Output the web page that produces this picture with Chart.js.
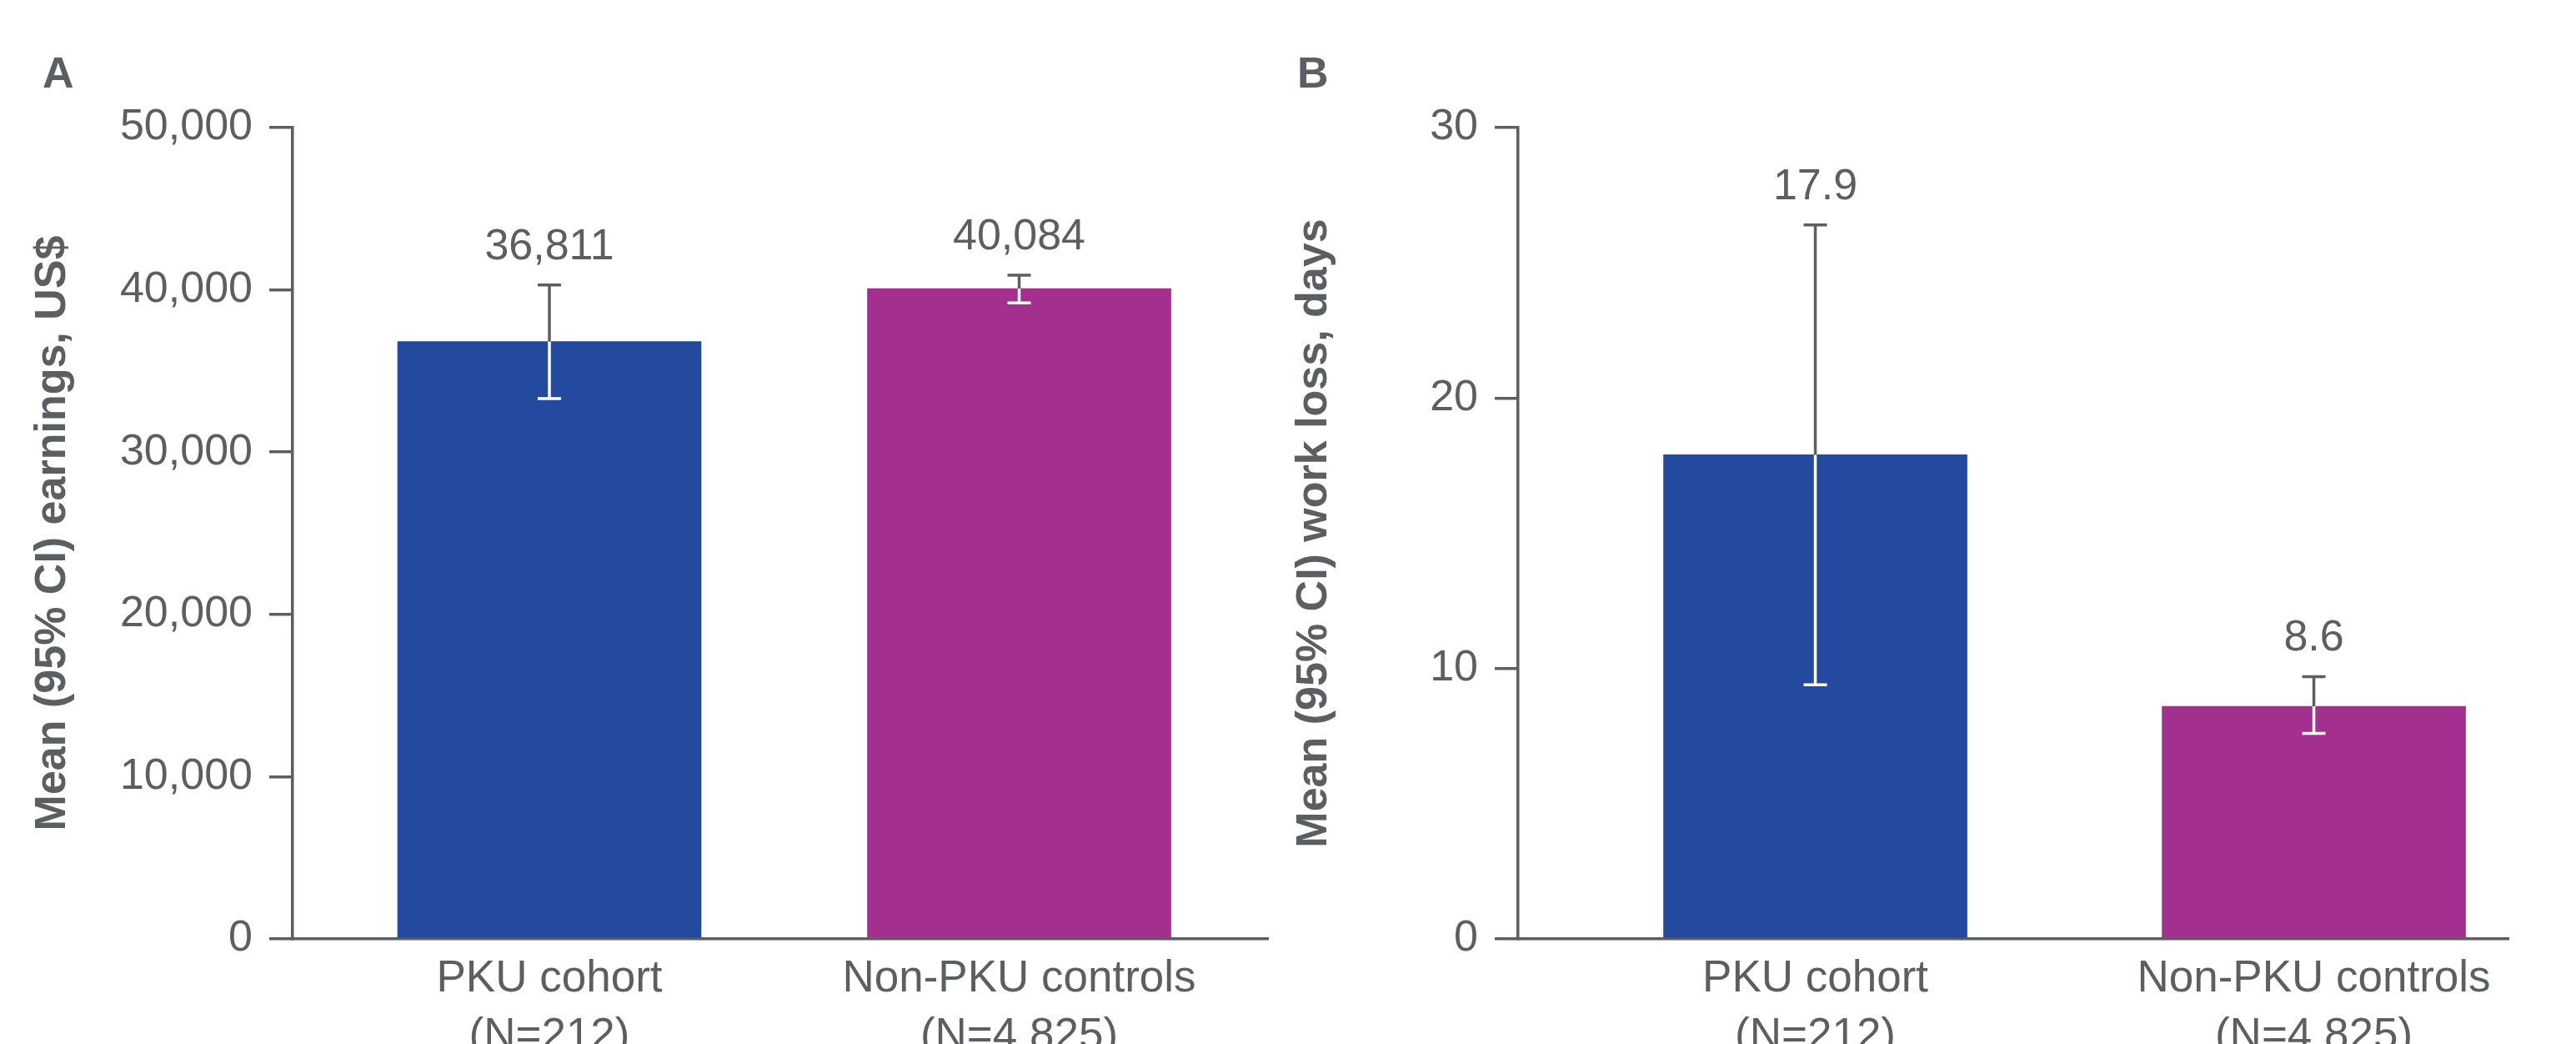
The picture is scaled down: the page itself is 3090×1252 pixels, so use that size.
<!DOCTYPE html>
<html>
<head>
<meta charset="utf-8">
<title>PKU earnings and work loss</title>
<script src="https://cdn.jsdelivr.net/npm/chart.js@4.4.1/dist/chart.umd.min.js"></script>
<style>
  body { margin: 0; background: #fff; }
  #wrap { position: relative; width: 3090px; height: 1252px; overflow: hidden; }
  canvas { position: absolute; top: 0; }
</style>
</head>
<body>
<div id="wrap">
  <canvas id="chartA" width="1545" height="1252" style="left:0"></canvas>
  <canvas id="chartB" width="1545" height="1252" style="left:1545px"></canvas>
</div>
<script>
// values
var categories = [['PKU cohort', '(N=212)'], ['Non-PKU controls', '(N=4,825)']];
var categoryPos = [0, 1];

var earningsMean = [36811, 40084];
var earningsLow = [33300, 39200];
var earningsHigh = [40300, 40900];
var earningsTicks = [0, 10000, 20000, 30000, 40000, 50000];

var workLossMean = [17.9, 8.6];
var workLossLow = [9.4, 7.6];
var workLossHigh = [26.4, 9.7];
var workLossTicks = [0, 10, 20, 30];

var barColors = ['#234a9f', '#a3308f'];

var GREY = '#5b5f61';
var FONT = "'Liberation Sans', Arial, Helvetica, sans-serif";

Chart.defaults.font.family = FONT;
Chart.defaults.font.size = 52;
Chart.defaults.color = GREY;

// error bars + value labels: grey above the bar, white inside it
var errorBarPlugin = {
  id: 'errorBars',
  afterDatasetsDraw: function(chart, args, opts) {
    var ctx = chart.ctx;
    var yScale = chart.scales.y;
    var meta = chart.getDatasetMeta(0);
    var half = 14;
    ctx.save();
    ctx.lineWidth = 3.5;
    meta.data.forEach(function(bar, i) {
      var x = bar.x;
      var top = yScale.getPixelForValue(opts.high[i]);
      var bottom = yScale.getPixelForValue(opts.low[i]);
      var barTop = bar.y;

      ctx.strokeStyle = GREY;
      ctx.beginPath();
      ctx.moveTo(x, top);
      ctx.lineTo(x, Math.min(barTop, bottom));
      ctx.moveTo(x - half, top);
      ctx.lineTo(x + half, top);
      ctx.stroke();

      ctx.strokeStyle = '#ffffff';
      ctx.beginPath();
      ctx.moveTo(x, barTop);
      ctx.lineTo(x, bottom);
      ctx.moveTo(x - half, bottom);
      ctx.lineTo(x + half, bottom);
      ctx.stroke();

      ctx.fillStyle = GREY;
      ctx.font = '52px ' + FONT;
      ctx.textAlign = 'center';
      ctx.textBaseline = 'alphabetic';
      ctx.fillText(opts.labels[i], x, top - 31);
    });
    ctx.restore();
  }
};

var panelLetterPlugin = {
  id: 'panelLetter',
  afterDraw: function(chart, args, opts) {
    var ctx = chart.ctx;
    ctx.save();
    ctx.fillStyle = GREY;
    ctx.font = 'bold 52px ' + FONT;
    ctx.textAlign = 'left';
    ctx.textBaseline = 'alphabetic';
    ctx.fillText(opts.text, opts.x, opts.y);
    ctx.restore();
  }
};

function makePanel(id, cfg) {
  var points = cfg.mean.map(function(v, i) { return {x: categoryPos[i], y: v}; });
  return new Chart(document.getElementById(id), {
    type: 'bar',
    data: {
      datasets: [{
        data: points,
        backgroundColor: barColors,
        borderWidth: 0,
        barThickness: 364
      }]
    },
    plugins: [errorBarPlugin, panelLetterPlugin],
    options: {
      responsive: false,
      animation: false,
      devicePixelRatio: 1,
      layout: { padding: { top: 153, right: cfg.padRight, bottom: 0, left: 0 } },
      plugins: {
        legend: { display: false },
        tooltip: { enabled: false },
        errorBars: { low: cfg.low, high: cfg.high, labels: cfg.labels },
        panelLetter: { text: cfg.letter, x: cfg.letterX, y: 105 }
      },
      scales: {
        x: {
          type: 'linear',
          bounds: 'data',
          offset: false,
          min: cfg.xMin,
          max: cfg.xMax,
          afterBuildTicks: function(scale) {
            scale.ticks = categoryPos.map(function(v) { return {value: v}; });
          },
          afterFit: function(scale) { scale.height = 126; },
          grid: { display: false, drawTicks: false },
          border: { display: true, color: GREY, width: 3.5 },
          ticks: {
            autoSkip: false,
            maxRotation: 0,
            padding: 14,
            color: GREY,
            font: { size: 53, lineHeight: 1.3 },
            callback: function(value, index) { return categories[index]; }
          }
        },
        y: {
          min: 0,
          max: cfg.ticks[cfg.ticks.length - 1],
          afterBuildTicks: function(scale) {
            scale.ticks = cfg.ticks.map(function(v) { return {value: v}; });
          },
          afterFit: function(scale) { scale.width = cfg.axisX; },
          grid: {
            display: true,
            drawOnChartArea: false,
            drawTicks: true,
            tickLength: 28,
            color: GREY,
            lineWidth: 3.5
          },
          border: { display: true, color: GREY, width: 3.5 },
          ticks: { padding: 20, color: GREY, font: { size: 52 } },
          title: {
            display: true,
            text: cfg.title,
            color: GREY,
            font: { size: 52, weight: 'bold', lineHeight: 1.2 },
            padding: { top: cfg.titlePad, bottom: 0 }
          }
        }
      }
    }
  });
}

makePanel('chartA', {
  mean: earningsMean,
  low: earningsLow,
  high: earningsHigh,
  ticks: earningsTicks,
  labels: earningsMean.map(function(v) { return v.toLocaleString('en-US'); }),
  title: 'Mean (95% CI) earnings, US$',
  letter: 'A',
  letterX: 51,
  axisX: 351,
  padRight: 24,
  titlePad: 32,
  xMin: -0.5466,
  xMax: 1.5297
});

makePanel('chartB', {
  mean: workLossMean,
  low: workLossLow,
  high: workLossHigh,
  ticks: workLossTicks,
  labels: workLossMean.map(function(v) { return v.toFixed(1); }),
  title: 'Mean (95% CI) work loss, days',
  letter: 'B',
  letterX: 11,
  axisX: 276,
  padRight: 81,
  titlePad: 0,
  xMin: -0.5962,
  xMax: 1.3904
});
</script>
</body>
</html>
